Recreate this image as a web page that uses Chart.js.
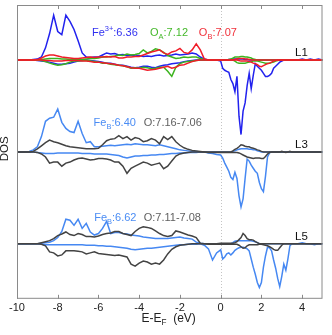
<!DOCTYPE html>
<html>
<head>
<meta charset="utf-8">
<script src="https://cdn.jsdelivr.net/npm/chart.js@4.4.1/dist/chart.umd.min.js"></script>
<style>
  html, body { margin: 0; padding: 0; background: #fff; }
</style>
</head>
<body>
<canvas id="dos" width="332" height="335"></canvas>
<script>
// energy grid (eV): 0.2 step below E_F, 0.1 step from 0 to 3.6, 0.2 step after
const energy = [
  -10,-9.8,-9.6,-9.4,-9.2,-9,-8.8,-8.6,-8.4,-8.2,
  -8,-7.8,-7.6,-7.4,-7.2,-7,-6.8,-6.6,-6.4,-6.2,
  -6,-5.8,-5.6,-5.4,-5.2,-5,-4.8,-4.6,-4.4,-4.2,
  -4,-3.8,-3.6,-3.4,-3.2,-3,-2.8,-2.6,-2.4,-2.2,
  -2,-1.8,-1.6,-1.4,-1.2,-1,-0.8,-0.6,-0.4,-0.2,
  0,0.1,0.2,0.3,0.4,0.5,0.6,0.7,0.8,0.9,
  1,1.1,1.2,1.3,1.4,1.5,1.6,1.7,1.8,1.9,
  2,2.1,2.2,2.3,2.4,2.5,2.6,2.7,2.8,2.9,
  3,3.1,3.2,3.3,3.4,3.5,3.6,
  3.8,4,4.2,4.4,4.6,4.8,5
];

const xTicks = [-10, -8, -6, -4, -2, 0, 2, 4];
const layerNames = ["L1", "L3", "L5"];
const layerOffset = [0, -9, -18];

// L1
const fe3Up_L1 = [
  0,0,0,0,0.05,0.1,0.3,1.2,2.6,4.4,
  2.8,2.5,4.4,3.8,3.0,1.9,0.7,0.3,0.25,0.3,
  0.3,0.5,0.7,0.6,0.65,0.5,0.55,0.45,0.5,0.4,
  0.45,0.35,0.4,0.35,0.45,0.5,0.4,0.45,0.5,0.6,
  0.5,0.55,0.6,0.7,0.6,0.3,0.1,0,0,0,
  0,0,0,0,0.05,0.05,0.1,0.1,0.1,0.1,
  0.1,0.1,0.05,0.05,0,0,0,0,0,0,
  0,0,0,0,0,0,0,0,0,0,
  0,0,0,0,0,0,0,
  0,0.1,0,0.1,0,0.1,0
];
const fe3Dn_L1 = [
  0,0,0,0,0,-0.05,-0.1,-0.15,-0.2,-0.3,
  -0.4,-0.4,-0.35,-0.3,-0.2,-0.1,-0.05,0,-0.05,-0.1,
  -0.15,-0.2,-0.3,-0.3,-0.4,-0.5,-0.5,-0.6,-0.7,-0.75,
  -0.7,-0.6,-0.6,-0.7,-0.75,-0.6,-0.5,-0.45,-0.35,-0.3,
  -0.25,-0.15,-0.1,-0.05,0,0,0,0,0,0,
  -0.1,-0.8,-1.0,-1.1,-1.2,-1.9,-2.3,-3.1,-1.6,-5.5,
  -7.3,-5.0,-4.2,-2.5,-1.3,-2.8,-1.5,-0.35,-0.6,-0.8,
  -1.0,-1.3,-1.6,-1.6,-1.5,-1.3,-0.8,-0.6,-0.4,-0.2,
  -0.1,0,0,0,0,0,0,
  0,0,0,0,0,0,0
];
const oAUp_L1 = [
  0,0,0,0,0,0,0.05,0.1,0.15,0.15,
  0.15,0.1,0.1,0.05,0.05,0.05,0.05,0.1,0.15,0.15,
  0.2,0.3,0.3,0.35,0.4,0.5,0.45,0.6,0.5,0.55,
  0.65,1.0,0.7,0.85,1.1,1.0,0.75,0.45,0.3,0.15,
  0.2,0.3,0.25,0.3,0.3,0.15,0.05,0,0,0,
  0,0,0,0,0.05,0.1,0.2,0.3,0.3,0.3,
  0.35,0.35,0.3,0.3,0.25,0.2,0.1,0.05,0,0,
  0,0,0,0,0,0,0,0,0,0,
  0,0,0,0,0,0,0,
  0,0,0,0,0,0,0
];
const oADn_L1 = [
  0,0,0,0,0,0,-0.05,-0.15,-0.3,-0.4,
  -0.5,-0.45,-0.35,-0.2,-0.1,-0.1,-0.05,-0.05,-0.1,-0.15,
  -0.2,-0.3,-0.3,-0.4,-0.45,-0.5,-0.55,-0.65,-0.8,-0.75,
  -0.8,-0.7,-0.75,-0.85,-0.8,-0.7,-0.7,-1.1,-1.6,-0.7,
  -0.35,-0.2,-0.15,-0.1,-0.05,0,0,0,0,0,
  0,0,0,0,0,0,0,-0.1,-0.25,-0.3,
  -0.3,-0.3,-0.3,-0.25,-0.2,-0.15,-0.1,-0.1,-0.1,-0.15,
  -0.2,-0.25,-0.3,-0.3,-0.3,-0.25,-0.2,-0.1,-0.05,0,
  0,0,0,0,0,0,0,
  0,0,0,0,0,0,0
];
const oBUp_L1 = [
  0,0,0,0,0,0.05,0.2,0.4,0.5,0.5,
  0.4,0.3,0.25,0.2,0.15,0.15,0.2,0.25,0.3,0.25,
  0.3,0.3,0.35,0.3,0.35,0.2,0.2,0.3,0.3,0.35,
  0.35,0.5,0.65,0.8,0.9,1.0,0.7,0.55,0.8,0.9,
  1.15,0.75,0.65,1.0,1.6,1.0,0.1,0,0,0,
  0,0,0,0,0,0,0,0.05,0.1,0.15,
  0.15,0.15,0.1,0.1,0.05,0,0,0,0,0,
  0,0,0,0,0,0,0,0,0,0,
  0,0,0,0,0,0,0,
  0,0,0,0,0,0,0
];
const oBDn_L1 = [
  0,0,0,0,0,0,0,-0.05,-0.05,-0.1,
  -0.1,-0.1,-0.05,-0.05,-0.05,-0.05,-0.1,-0.1,-0.15,-0.2,
  -0.2,-0.25,-0.3,-0.35,-0.4,-0.5,-0.55,-0.65,-0.75,-0.8,
  -0.8,-0.9,-1.0,-0.95,-0.9,-0.8,-0.7,-0.6,-0.8,-0.7,
  -0.5,-0.45,-0.3,-0.15,-0.05,0,0,0,0,0,
  0,0,0,0,0,0,0,0,0,-0.05,
  -0.1,-0.1,-0.1,-0.1,-0.15,-0.2,-0.3,-0.35,-0.45,-0.6,
  -0.65,-0.55,-0.45,-0.35,-0.3,-0.2,-0.1,-0.05,0,0,
  0,0,0,0,0,0,0,
  0,0,0,0,0,0,0
];

// L3
const feBUp_L3 = [
  0,0,0,0.05,0.2,0.5,1.5,3.0,3.3,3.4,
  4.2,2.9,2.3,2.0,1.9,3.0,1.8,0.9,1.0,0.5,
  0.5,0.55,0.6,0.65,0.6,0.65,0.7,0.75,0.7,0.8,
  0.75,0.7,0.7,0.65,0.6,0.7,0.6,0.5,0.4,0.3,
  0.2,0.15,0.1,0.05,0.05,0,0,0,0,0,
  0,0,0,0,0,0,0.05,0.1,0.2,0.25,
  0.3,0.3,0.3,0.3,0.25,0.25,0.2,0.2,0.1,0.05,
  0,0,0,0,0,0,0,0,0,0,
  0,0,0,0,0,0,0,
  0,0,0,0,0,0,0
];
const feBDn_L3 = [
  0,0,0,0,0,-0.05,-0.1,-0.15,-0.15,-0.15,
  -0.1,-0.1,-0.1,-0.1,-0.1,-0.1,-0.15,-0.15,-0.15,-0.2,
  -0.2,-0.2,-0.2,-0.25,-0.3,-0.35,-0.5,-0.6,-0.5,-0.4,
  -0.4,-0.35,-0.35,-0.3,-0.3,-0.25,-0.25,-0.2,-0.15,-0.15,
  -0.1,-0.1,-0.05,-0.05,-0.05,0,0,-0.1,-0.15,-0.25,
  -0.3,-0.6,-1.1,-1.5,-1.9,-2.5,-2.7,-2.0,-2.6,-4.3,
  -5.4,-4.6,-2.6,-0.7,-0.9,-1.3,-1.6,-1.9,-2.1,-3.0,
  -3.6,-3.9,-2.4,-0.5,-0.1,0,0,0,0,0,
  0,0,0,0,0,0,0,
  0,0,0,0,0,0,0
];
const oUp_L3 = [
  0,0,0,0,0.05,0.3,0.6,0.9,1.15,1.0,
  0.9,0.75,0.6,0.5,0.45,0.4,0.35,0.3,0.3,0.3,
  0.35,0.7,1.1,1.25,1.3,1.6,1.3,1.5,1.15,1.4,
  1.3,1.0,1.1,1.3,1.15,0.8,1.5,1.2,1.5,1.0,
  0.65,0.4,0.25,0.15,0.1,0.05,0,0,0,0,
  0,0,0,0,0,0,0.1,0.25,0.35,0.5,
  0.7,0.65,0.55,0.5,0.5,0.4,0.35,0.3,0.2,0.15,
  0.05,0,0,0,0,0,0,0,0,0,
  0.05,0,0,0,0.05,0,0,
  0,0,0,0,0,0,0
];
const oDn_L3 = [
  0,0,0,0,0,-0.05,-0.2,-0.5,-1.1,-1.0,
  -1.0,-1.4,-1.1,-1.0,-0.8,-0.65,-0.6,-0.7,-0.8,-0.75,
  -0.65,-0.65,-0.7,-0.8,-1.0,-1.0,-1.4,-2.1,-1.6,-1.4,
  -1.2,-1.0,-1.1,-1.3,-1.2,-1.1,-1.65,-1.4,-0.9,-0.4,
  -0.2,-0.1,-0.05,0,0,0,0,-0.05,-0.05,-0.05,
  -0.05,-0.05,-0.05,-0.05,-0.05,-0.05,-0.05,-0.05,-0.05,-0.1,
  -0.2,-0.3,-0.4,-0.5,-0.55,-0.6,-0.65,-0.6,-0.6,-0.6,
  -0.65,-0.65,-0.45,-0.2,-0.05,0,0,0,0,0,
  0,0,-0.05,0,0,0,0,
  0,0,0,0,0,0,0
];

// L5
const feBUp_L5 = [
  0,0,0,0,0,0,0.05,0.1,0.15,0.3,
  0.6,1.2,2.4,2.3,1.8,2.4,1.5,2.0,1.15,0.85,
  1.0,1.5,2.2,1.0,1.1,1.1,1.0,0.95,0.85,0.8,
  0.75,0.65,0.6,0.55,0.5,0.5,0.5,0.5,0.55,0.6,
  0.65,0.55,0.5,0.45,0.15,0.05,0,0,0,0,
  0,0,0,0,0,0,0.1,0.25,0.3,0.3,
  0.3,0.3,0.3,0.3,0.3,0.3,0.25,0.2,0.1,0,
  0,0,0,0,0,0,0,0,0,0,
  0,0,0,0,0,0,0,
  0,0.1,0,0,0,0,0
];
const feBDn_L5 = [
  0,0,0,0,0,0,-0.05,-0.1,-0.1,-0.1,
  -0.1,-0.1,-0.1,-0.1,-0.1,-0.1,-0.1,-0.15,-0.15,-0.15,
  -0.2,-0.2,-0.25,-0.25,-0.3,-0.35,-0.4,-0.45,-0.55,-0.6,
  -0.55,-0.5,-0.45,-0.45,-0.4,-0.35,-0.3,-0.25,-0.2,-0.15,
  -0.1,-0.1,-0.05,-0.05,-0.05,0,-0.15,-0.5,-1.6,-0.9,
  -0.6,-1.5,-1.3,-1.0,-0.9,-1.1,-0.9,-0.65,-0.5,-0.4,
  -0.35,-0.35,-0.4,-0.5,-0.7,-1.5,-2.3,-3.0,-3.8,-4.3,
  -3.8,-2.3,-1.2,-0.35,-0.4,-0.7,-1.6,-2.4,-3.4,-4.2,
  -3.2,-2.0,-2.6,-1.5,-0.2,0,0,
  0,0,0,0,-0.1,0,0
];
const oUp_L5 = [
  0,0,0,0,0,0,0.1,0.2,0.3,0.5,
  0.8,0.95,1.15,0.9,0.8,1.0,0.9,0.7,0.7,0.65,
  0.75,0.9,1.0,1.05,1.2,1.2,1.0,0.9,0.8,1.2,
  1.5,1.65,1.6,1.5,1.25,1.0,0.8,0.7,0.8,1.25,
  1.15,1.0,0.85,0.75,0.6,0.05,0,0,0,0,
  0.05,0.05,0.05,0.05,0.05,0.05,0.05,0.1,0.2,0.4,
  0.6,1.0,0.8,0.5,0.4,0.4,0.35,0.2,0.1,0,
  0,0,0,0,0,0,0,0,0,0,
  0,0,0,0,0,0,0,
  0,0,0,0,0,0,0
];
const oDn_L5 = [
  0,0,0,0,0,0,-0.05,-0.2,-0.8,-0.9,
  -1.2,-1.1,-0.7,-0.7,-0.7,-0.75,-0.8,-1.0,-0.9,-0.8,
  -0.95,-1.0,-1.05,-1.1,-1.15,-1.1,-1.2,-1.3,-2.0,-2.2,
  -1.9,-1.7,-1.8,-2.0,-1.9,-2.0,-1.6,-1.0,-0.55,-0.3,
  -0.15,-0.1,-0.05,0,0,0,0,-0.05,-0.05,-0.05,
  -0.05,-0.05,-0.05,-0.05,-0.05,-0.05,-0.05,-0.05,-0.05,-0.15,
  -0.3,-0.45,-0.4,-0.2,-0.1,-0.1,-0.1,-0.1,-0.1,-0.05,
  -0.05,-0.1,-0.15,-0.2,-0.3,-0.4,-0.55,-0.65,-0.65,-0.4,
  -0.15,0,0,0,0,0,0,
  0,0,0,0,0,0,0
];

const FONT = '"Liberation Sans", Arial, sans-serif';
const cBlue = "#2222ee", cGreen = "#3cb41e", cRed = "#f01c28", cLight = "#4688f2", cGray = "#434343";

// first in list is drawn on top
const curves = [
  [oBUp_L1, 0, cRed], [oBDn_L1, 0, cRed],
  [oAUp_L1, 0, cGreen], [oADn_L1, 0, cGreen],
  [fe3Up_L1, 0, cBlue], [fe3Dn_L1, 0, cBlue],
  [oUp_L3, 1, cGray], [oDn_L3, 1, cGray],
  [feBUp_L3, 1, cLight], [feBDn_L3, 1, cLight],
  [oUp_L5, 2, cGray], [oDn_L5, 2, cGray],
  [feBUp_L5, 2, cLight], [feBDn_L5, 2, cLight]
];

const datasets = curves.map(([vals, layer, color]) => ({
  data: energy.map((e, i) => ({ x: e, y: layerOffset[layer] + vals[i] })),
  borderColor: color,
  borderWidth: 1.5,
  pointRadius: 0,
  fill: false,
  tension: 0
}));

// text labels: [parts, energy, dos value, color]
const notes = [
  [[{ t: "Fe" }, { t: "3+", sup: 1 }, { t: ":6.36" }], -6.32, 2.78, "#3030f0"],
  [[{ t: "O" }, { t: "A", sub: 1 }, { t: ":7.12" }], -3.47, 2.78, "#44b82a"],
  [[{ t: "O" }, { t: "B", sub: 1 }, { t: ":7.07" }], -1.07, 2.78, "#f0303a"],
  [[{ t: "Fe" }, { t: "B", sub: 1 }, { t: ":6.40" }], -6.24, -6.05, "#4a8cf4"],
  [[{ t: "O:7.16-7.06" }], -3.78, -6.05, "#606060"],
  [[{ t: "Fe" }, { t: "B", sub: 1 }, { t: ":6.62" }], -6.21, -15.38, "#4a8cf4"],
  [[{ t: "O:7.11-7.08" }], -3.78, -15.38, "#606060"]
];

function richText(ctx, parts, x, y, size, color) {
  ctx.fillStyle = color;
  ctx.textBaseline = "alphabetic";
  ctx.textAlign = "left";
  let cx = x;
  parts.forEach(p => {
    const s = (p.sub || p.sup) ? size * 0.68 : size;
    ctx.font = s + "px " + FONT;
    const dy = p.sub ? size * 0.28 : (p.sup ? -size * 0.42 : 0);
    ctx.fillText(p.t, cx, y + dy);
    cx += ctx.measureText(p.t).width;
  });
}

const decor = {
  id: "decor",
  beforeDatasetsDraw(chart) {
    const { ctx, chartArea: a, scales: { x } } = chart;
    ctx.save();
    ctx.strokeStyle = "#c4c4c4";
    ctx.lineWidth = 1;
    ctx.setLineDash([1, 2]);
    const x0 = Math.round(x.getPixelForValue(0)) + 0.5;
    ctx.beginPath();
    ctx.moveTo(x0, a.top);
    ctx.lineTo(x0, a.bottom);
    ctx.stroke();
    ctx.restore();
  },
  afterDraw(chart) {
    const { ctx, chartArea: a, scales: { x, y } } = chart;
    ctx.save();
    // frame + inner ticks
    ctx.strokeStyle = "#8a8a8a";
    ctx.lineWidth = 1;
    ctx.strokeRect(a.left + 0.5, a.top + 0.5, a.right - a.left - 1, a.bottom - a.top - 1);
    ctx.beginPath();
    xTicks.forEach(v => {
      const px = Math.round(x.getPixelForValue(v)) + 0.5;
      ctx.moveTo(px, a.top); ctx.lineTo(px, a.top + 4);
      ctx.moveTo(px, a.bottom); ctx.lineTo(px, a.bottom - 4);
    });
    ctx.stroke();

    // species labels
    notes.forEach(([parts, e, v, color]) => {
      richText(ctx, parts, x.getPixelForValue(e), y.getPixelForValue(v) + 4, 11, color);
    });
    // layer names
    layerNames.forEach((name, k) => {
      richText(ctx, [{ t: name }], x.getPixelForValue(3.65), y.getPixelForValue(layerOffset[k] + 0.8) + 4, 11.5, "#111");
    });

    // axis titles
    richText(ctx, [{ t: "E-E" }, { t: "F", sub: 1 }, { t: "  (eV)" }], 141.5, a.bottom + 23, 12, "#222");
    ctx.translate(a.left - 6, (a.top + a.bottom) / 2 - 3);
    ctx.rotate(-Math.PI / 2);
    ctx.font = "11.5px " + FONT;
    ctx.fillStyle = "#222";
    ctx.textAlign = "center";
    ctx.textBaseline = "bottom";
    ctx.fillText("DOS", 0, 0);
    ctx.restore();
  }
};

new Chart(document.getElementById("dos"), {
  type: "line",
  data: { datasets },
  options: {
    responsive: false,
    animation: false,
    layout: { padding: { left: 17, right: 9.5, top: 5, bottom: 17 } },
    plugins: { legend: { display: false }, tooltip: { enabled: false } },
    scales: {
      x: {
        type: "linear",
        min: -10,
        max: 5,
        afterBuildTicks: s => { s.ticks = xTicks.map(v => ({ value: v })); },
        grid: { display: false, drawTicks: false },
        border: { display: false },
        ticks: { font: { family: FONT, size: 11 }, color: "#222", padding: 3, maxRotation: 0, autoSkip: false }
      },
      y: { display: false, min: -23.4, max: 5.4 }
    }
  },
  plugins: [decor]
});
</script>
</body>
</html>
